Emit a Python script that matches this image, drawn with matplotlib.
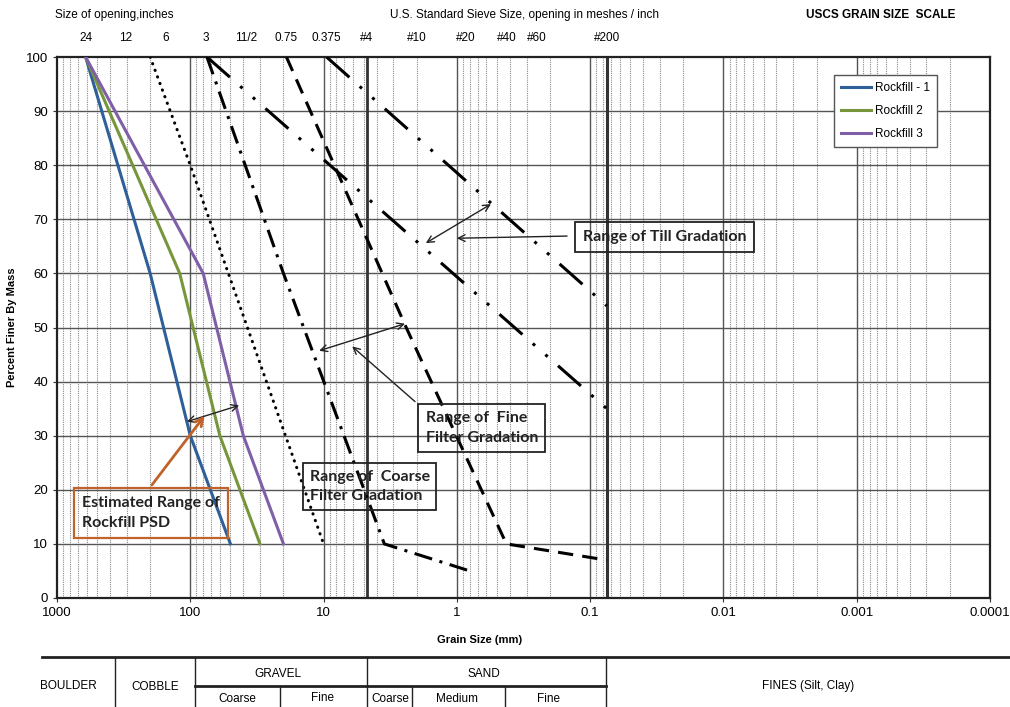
import matplotlib.pyplot as plt
import matplotlib.ticker as mticker
from matplotlib.lines import Line2D
import numpy as np

# Rockfill gradations (grain size in mm, percent finer)
rock1_mm = [610, 200, 100, 50]
rock1_pct = [100, 60, 30, 10]
rock2_mm = [610, 120, 60, 30]
rock2_pct = [100, 60, 30, 10]
rock3_mm = [610, 80, 40, 20]
rock3_pct = [100, 60, 30, 10]

# Filter and till envelopes
coarse_fine_mm = [200, 100, 10]
coarse_fine_pct = [100, 80, 10]
fine_coarse_mm = [75, 20, 3.5, 0.8]
fine_coarse_pct = [100, 60, 10, 5]
fine_fine_mm = [19, 2.4, 0.425, 0.075]
fine_fine_pct = [100, 50, 10, 7]
till_coarse_mm = [75, 0.075]
till_coarse_pct = [100, 35]
till_fine_mm = [9.5, 0.075]
till_fine_pct = [100, 54]

# US standard sieves along the top
sieve_mm = [610, 305, 152, 76.2, 38.1, 19.05, 9.525, 4.75, 2.0, 0.85, 0.425, 0.25, 0.075]
sieve_labels = ['24', '12', '6', '3', '11/2', '0.75', '0.375', '#4', '#10', '#20', '#40', '#60', '#200']

decades = [1000, 100, 10, 1, 0.1, 0.01, 0.001, 0.0001]
decade_labels = ['1000', '100', '10', '1', '0.1', '0.01', '0.001', '0.0001']

plt.rcParams['font.family'] = ['Liberation Sans', 'DejaVu Sans']
W, H = 1010, 707
fig = plt.figure(figsize=(W / 100, H / 100), dpi=100)
ax = fig.add_axes([57 / W, 1 - 598 / H, 933 / W, 541 / H])

ax.set_xscale('log')
ax.set_xlim(1000, 0.0001)
ax.set_ylim(0, 100)

# grid: solid decades and tens, dotted minor
minor = [m * 10.0 ** e for e in range(-4, 3) for m in range(2, 10)]
for v in minor:
    ax.axvline(v, color='#8a8a8a', lw=0.8, ls=(0, (1, 1)), zorder=1)
for v in decades[1:-1]:
    ax.axvline(v, color='#555555', lw=1.0, zorder=1)
for v in range(10, 100, 10):
    ax.axhline(v, color='#555555', lw=1.0, zorder=1)
ax.axvline(4.75, color='#333333', lw=2.0, zorder=1)
ax.axvline(0.075, color='#333333', lw=2.2, zorder=1)

ax.plot(rock1_mm, rock1_pct, color='#2F5F98', lw=2.2, label='Rockfill - 1', zorder=3)
ax.plot(rock2_mm, rock2_pct, color='#77963C', lw=2.2, label='Rockfill 2', zorder=3)
ax.plot(rock3_mm, rock3_pct, color='#7F5FA8', lw=2.2, label='Rockfill 3', zorder=3)

ax.plot(coarse_fine_mm, coarse_fine_pct, color='black', lw=2.2,
        ls=(0, (0.1, 2.2)), dash_capstyle='round', zorder=3)
ax.plot(fine_coarse_mm, fine_coarse_pct, color='black', lw=2.2,
        ls=(0, (6, 2.5, 1, 2.5)), zorder=3)
ax.plot(fine_fine_mm, fine_fine_pct, color='black', lw=2.2,
        ls=(0, (5, 3)), zorder=3)
ax.plot(till_coarse_mm, till_coarse_pct, color='black', lw=2.2,
        ls=(0, (10, 4.5, 1, 4.5, 1, 4.5)), zorder=3)
ax.plot(till_fine_mm, till_fine_pct, color='black', lw=2.2,
        ls=(0, (10, 4.5, 1, 4.5, 1, 4.5)), zorder=3)

ax.set_xticks(decades)
ax.set_xticklabels(decade_labels)
ax.xaxis.set_minor_locator(mticker.NullLocator())
ax.set_yticks(range(0, 101, 10))
ax.tick_params(labelsize=9.5, length=3, color='#333333')
for s in ax.spines.values():
    s.set_linewidth(1.6)
    s.set_color('#222222')

ax.set_ylabel('Percent Finer By Mass', fontsize=8, fontweight='bold', labelpad=6)
fig.text(480 / W, 1 - 640 / H, 'Grain Size (mm)', fontsize=8, fontweight='bold',
         ha='center', va='center')

sec = ax.secondary_xaxis('top')
sec.set_xticks(sieve_mm)
sec.set_xticklabels(sieve_labels)
sec.xaxis.set_minor_locator(mticker.NullLocator())
sec.tick_params(length=0, pad=9, labelsize=8.5)
sec.spines['top'].set_visible(False)

fig.text(55 / W, 1 - 15 / H, 'Size of opening,inches', fontsize=8.5, va='center')
fig.text(525 / W, 1 - 15 / H, 'U.S. Standard Sieve Size, opening in meshes / inch',
         fontsize=8.5, ha='center', va='center')
fig.text(881 / W, 1 - 15 / H, 'USCS GRAIN SIZE  SCALE', fontsize=8.5,
         fontweight='bold', ha='center', va='center')

leg = ax.legend(loc='upper left', bbox_to_anchor=(0.826, 0.978), fontsize=8.5,
                handlelength=2.6, handletextpad=0.3, labelspacing=0.95,
                fancybox=False, edgecolor='#555555', framealpha=1,
                borderpad=0.6)
leg.get_frame().set_linewidth(1.0)

# callouts
callout_font = dict(family=['Lato', 'DejaVu Sans'], fontsize=11.5, fontweight='bold',
                    color='#222222', zorder=6, linespacing=1.5)
ax.text(197, 15.7, 'Estimated Range of\nRockfill PSD', ha='center', va='center',
        multialignment='left', **callout_font,
        bbox=dict(boxstyle='square,pad=0.5', fc='none', ec='#C0622A', lw=1.6))
ax.text(4.5, 20.6, 'Range of  Coarse\nFilter Gradation', ha='center', va='center',
        multialignment='left', **callout_font,
        bbox=dict(boxstyle='square,pad=0.4', fc='none', ec='#222222', lw=1.3))
ax.text(0.65, 31.4, 'Range of  Fine\nFilter Gradation', ha='center', va='center',
        multialignment='left', **callout_font,
        bbox=dict(boxstyle='square,pad=0.45', fc='none', ec='#222222', lw=1.3))
ax.text(0.0277, 66.7, 'Range of Till Gradation', ha='center', va='center',
        **callout_font,
        bbox=dict(boxstyle='square,pad=0.5', fc='none', ec='#222222', lw=1.3))

arrow2 = dict(arrowstyle='<->', color='#222222', lw=1.0, shrinkA=0, shrinkB=0,
              mutation_scale=12)
arrow1 = dict(arrowstyle='->', color='#222222', lw=1.0, shrinkA=0, shrinkB=0,
              mutation_scale=12)
ax.annotate('', xy=(106, 32.6), xytext=(43, 35.6), arrowprops=arrow2, zorder=5)
ax.annotate('', xy=(78, 33.7), xytext=(194, 20.9), zorder=5,
            arrowprops=dict(arrowstyle='->', color='#C0622A', lw=2.0, shrinkA=0,
                            shrinkB=0, mutation_scale=14))
ax.annotate('', xy=(10.8, 45.7), xytext=(2.45, 50.7), arrowprops=arrow2, zorder=5)
ax.annotate('', xy=(6.1, 46.5), xytext=(2.06, 36.3), arrowprops=arrow1, zorder=5)
ax.annotate('', xy=(1.71, 65.6), xytext=(0.555, 72.8), arrowprops=arrow2, zorder=5)
ax.annotate('', xy=(1.0, 66.5), xytext=(0.149, 66.9), arrowprops=arrow1, zorder=5)

# USCS classification strip below the chart
def hline(x0, x1, y, lw):
    fig.add_artist(Line2D([x0 / W, x1 / W], [1 - y / H, 1 - y / H],
                          color='#222222', lw=lw))

def vline(x, y0, y1, lw=1.0):
    fig.add_artist(Line2D([x / W, x / W], [1 - y0 / H, 1 - y1 / H],
                          color='#222222', lw=lw))

hline(42, 1010, 657, 2.0)
hline(195, 606, 686, 2.0)
for x in [115, 195, 367, 606]:
    vline(x, 657, 707)
for x in [280, 412, 505]:
    vline(x, 686, 707)

table_font = dict(family=['Liberation Sans Narrow', 'Liberation Sans'], fontsize=8.5,
                  ha='center', va='center')
fig.text(68 / W, 1 - 686 / H, 'BOULDER', **table_font)
fig.text(155 / W, 1 - 687 / H, 'COBBLE', **table_font)
fig.text(278 / W, 1 - 674 / H, 'GRAVEL', **table_font)
fig.text(484 / W, 1 - 674 / H, 'SAND', **table_font)
fig.text(808 / W, 1 - 686 / H, 'FINES (Silt, Clay)', **table_font)
fig.text(237 / W, 1 - 699 / H, 'Coarse', **table_font)
fig.text(323 / W, 1 - 698 / H, 'Fine', **table_font)
fig.text(390 / W, 1 - 699 / H, 'Coarse', **table_font)
fig.text(457 / W, 1 - 699 / H, 'Medium', **table_font)
fig.text(548 / W, 1 - 699 / H, 'Fine', **table_font)

fig.savefig('out.png', dpi=100)
